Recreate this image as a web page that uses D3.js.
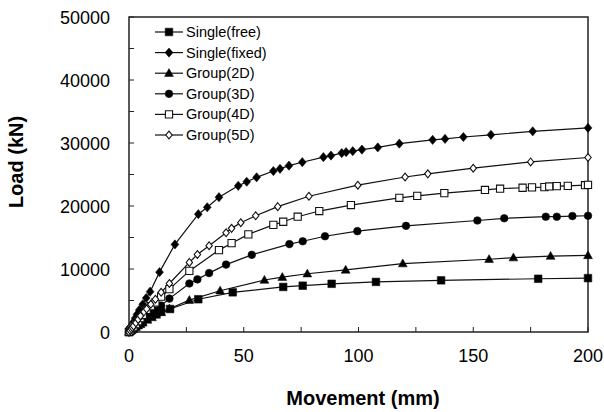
<!DOCTYPE html>
<html>
<head>
<meta charset="utf-8">
<script src="https://cdn.jsdelivr.net/npm/d3@7"></script>
<style>
  html, body { margin: 0; padding: 0; background: #fff; }
  svg { display: block; }
  text { font-family: "Liberation Sans", Arial, sans-serif; fill: #000; }
</style>
</head>
<body>
<svg id="chart" width="604" height="412"></svg>
<script>
// ---------- data ----------
const seriesNames = ["Single(free)", "Single(fixed)", "Group(2D)", "Group(3D)", "Group(4D)", "Group(5D)"];

const singleFreeX = [0, 0.5, 1, 1.5, 2, 3, 4, 5, 6, 8, 10, 12, 14, 17.9, 30.2, 45.2, 67.2, 75.7, 88.3, 107.6, 136, 178.3, 200];
const singleFreeY = [0, 150, 300, 450, 600, 900, 1200, 1500, 1750, 2200, 2600, 2950, 3250, 3650, 5200, 6300, 7150, 7350, 7650, 7950, 8200, 8450, 8550];

const singleFixedX = [0, 0.5, 1, 1.5, 2, 2.7, 3.5, 4.5, 6, 7.5, 9.2, 13.3, 20, 30.2, 34.1, 39.2, 47.6, 51.3, 55.6, 62.9, 65.8, 69.7, 75.5, 84.7, 88, 92.7, 94.6, 97.5, 101.5, 108.4, 117.8, 132.3, 137.7, 145.7, 157.7, 175.9, 200];
const singleFixedY = [0, 400, 800, 1200, 1600, 2200, 2800, 3500, 4400, 5400, 6400, 9500, 13900, 18700, 19800, 21400, 23200, 23850, 24550, 25550, 25900, 26400, 26950, 27750, 28000, 28400, 28550, 28700, 28950, 29300, 29900, 30500, 30650, 30950, 31300, 31850, 32400];

const group2DX = [0, 0.5, 1, 1.5, 2, 3, 4, 5, 6, 8, 10, 11.8, 14, 17.6, 26.3, 39.7, 59, 66.8, 77.7, 94.4, 119.3, 156.9, 167.5, 183.7, 200];
const group2DY = [0, 150, 250, 400, 500, 750, 1000, 1200, 1450, 1900, 2300, 2700, 3100, 3700, 5050, 6550, 8250, 8700, 9250, 9850, 10850, 11550, 11800, 12050, 12150];

const group3DX = [0, 0.5, 1, 1.5, 2, 3, 4, 5, 6, 8, 10, 11.8, 14, 17.6, 26.3, 29.8, 34.9, 42.3, 53.5, 69.9, 75.7, 85.4, 99.5, 120.7, 151.8, 163.5, 181.6, 186.4, 193.2, 200];
const group3DY = [0, 200, 350, 550, 700, 1000, 1300, 1650, 1950, 2600, 3000, 3400, 4200, 5300, 7700, 8350, 9350, 10700, 12250, 13950, 14400, 15200, 16000, 16850, 17700, 18050, 18300, 18300, 18400, 18450];

const group4DX = [0, 0.5, 1, 1.5, 2, 3, 4, 5, 6, 7.7, 9.5, 11.5, 14, 17.6, 26.3, 39.2, 44.7, 52, 62.9, 67.2, 73.5, 82.9, 96.7, 117.8, 125.6, 137.4, 155.1, 161.7, 171.5, 175.6, 181, 183.1, 186.4, 191.2, 198.7, 200];
const group4DY = [0, 250, 450, 650, 850, 1250, 1700, 2200, 2700, 3500, 4100, 4700, 5600, 6800, 9700, 13000, 14100, 15500, 17000, 17500, 18300, 19200, 20150, 21300, 21600, 22050, 22550, 22750, 22900, 22950, 23000, 23100, 23150, 23200, 23300, 23350];

const group5DX = [0, 0.5, 1, 1.5, 2, 3, 4, 5, 6.5, 7.7, 9.5, 11.5, 14, 17.6, 26.3, 29.8, 34.9, 42.3, 44.7, 48.7, 55.2, 64.8, 78.4, 99.7, 120.3, 130.2, 150, 175, 200];
const group5DY = [0, 250, 500, 700, 950, 1450, 2000, 2550, 3200, 3650, 4400, 5200, 6300, 7700, 11050, 12300, 13700, 15750, 16450, 17350, 18450, 19900, 21550, 23300, 24600, 25100, 26000, 27000, 27700];

const xTicks = [0, 50, 100, 150, 200];
const yTicks = [0, 10000, 20000, 30000, 40000, 50000];
const xTitle = "Movement (mm)";
const yTitle = "Load (kN)";

// ---------- layout ----------
const svg = d3.select("#chart");
const pLeft = 129, pRight = 588, pTop = 17, pBottom = 332;

const x = d3.scaleLinear().domain([0, 200]).range([pLeft, pRight]);
const y = d3.scaleLinear().domain([0, 50000]).range([pBottom, pTop]);

const series = [
  { name: seriesNames[0], xs: singleFreeX, ys: singleFreeY, marker: "square", fill: "#000" },
  { name: seriesNames[1], xs: singleFixedX, ys: singleFixedY, marker: "diamond", fill: "#000" },
  { name: seriesNames[2], xs: group2DX, ys: group2DY, marker: "triangle", fill: "#000" },
  { name: seriesNames[3], xs: group3DX, ys: group3DY, marker: "circle", fill: "#000" },
  { name: seriesNames[4], xs: group4DX, ys: group4DY, marker: "square", fill: "#fff" },
  { name: seriesNames[5], xs: group5DX, ys: group5DY, marker: "diamond", fill: "#fff" }
];

function markerPath(type, open) {
  switch (type) {
    case "square": { const h = open ? 3.6 : 3.8; return `M${-h},${-h}H${h}V${h}H${-h}Z`; }
    case "diamond": { const w = open ? 3.2 : 3.9, h = open ? 3.9 : 4.6; return `M0,${-h}L${w},0L0,${h}L${-w},0Z`; }
    case "triangle": return "M0,-4.6L4.4,3.2L-4.4,3.2Z";
    case "circle": return d3.symbol(d3.symbolCircle, 46)();
  }
}

// ticks (inside)
const g = svg.append("g");
const xMinor = d3.range(0, 201, 25);
g.selectAll(".xt").data(xMinor).join("line")
  .attr("x1", d => x(d)).attr("x2", d => x(d))
  .attr("y1", pBottom).attr("y2", pBottom - 5)
  .attr("stroke", "#222").attr("stroke-width", 1);
const yMinor = d3.range(0, 50001, 5000);
g.selectAll(".yt").data(yMinor).join("line")
  .attr("x1", pLeft).attr("x2", pLeft + 5)
  .attr("y1", d => y(d)).attr("y2", d => y(d))
  .attr("stroke", "#222").attr("stroke-width", 1);

// frame
svg.append("rect").attr("x", pLeft).attr("y", pTop)
  .attr("width", pRight - pLeft).attr("height", pBottom - pTop)
  .attr("fill", "none").attr("stroke", "#222").attr("stroke-width", 1.5);

// tick labels
svg.selectAll(".xl").data(xTicks).join("text")
  .attr("x", d => x(d)).attr("y", 362)
  .attr("text-anchor", "middle").attr("font-size", 18)
  .text(d => d);
svg.selectAll(".yl").data(yTicks).join("text")
  .attr("x", 110).attr("y", d => y(d) + 6.5)
  .attr("text-anchor", "end").attr("font-size", 18)
  .text(d => d);

// axis titles
svg.append("text").attr("x", 363).attr("y", 405)
  .attr("text-anchor", "middle").attr("font-size", 20).attr("font-weight", "bold")
  .text(xTitle);
svg.append("text").attr("transform", "translate(23,162) rotate(-90)")
  .attr("text-anchor", "middle").attr("font-size", 20).attr("font-weight", "bold")
  .text(yTitle);

// series
const line = d3.line().x(d => x(d[0])).y(d => y(d[1]));
series.forEach(s => {
  const pts = s.xs.map((v, i) => [v, s.ys[i]]);
  svg.append("path").datum(pts).attr("d", line)
    .attr("fill", "none").attr("stroke", "#111").attr("stroke-width", 1.2);
});
series.forEach(s => {
  const pts = s.xs.map((v, i) => [v, s.ys[i]]);
  svg.append("g").selectAll("path").data(pts).join("path")
    .attr("transform", d => `translate(${x(d[0])},${y(d[1])})`)
    .attr("d", markerPath(s.marker, s.fill === "#fff"))
    .attr("fill", s.fill).attr("stroke", "#111").attr("stroke-width", s.fill === "#fff" ? 1.1 : 0.6);
});

// legend
const legend = svg.append("g");
series.forEach((s, i) => {
  const ly = 32 + i * 20.6;
  legend.append("line").attr("x1", 155).attr("x2", 183).attr("y1", ly).attr("y2", ly)
    .attr("stroke", "#111").attr("stroke-width", 1.2);
  legend.append("path").attr("transform", `translate(169,${ly})`)
    .attr("d", markerPath(s.marker, s.fill === "#fff"))
    .attr("fill", s.fill).attr("stroke", "#111").attr("stroke-width", s.fill === "#fff" ? 1.1 : 0.6);
  legend.append("text").attr("x", 186).attr("y", ly + 5)
    .attr("font-size", 14.5).text(s.name);
});
</script>
</body>
</html>
